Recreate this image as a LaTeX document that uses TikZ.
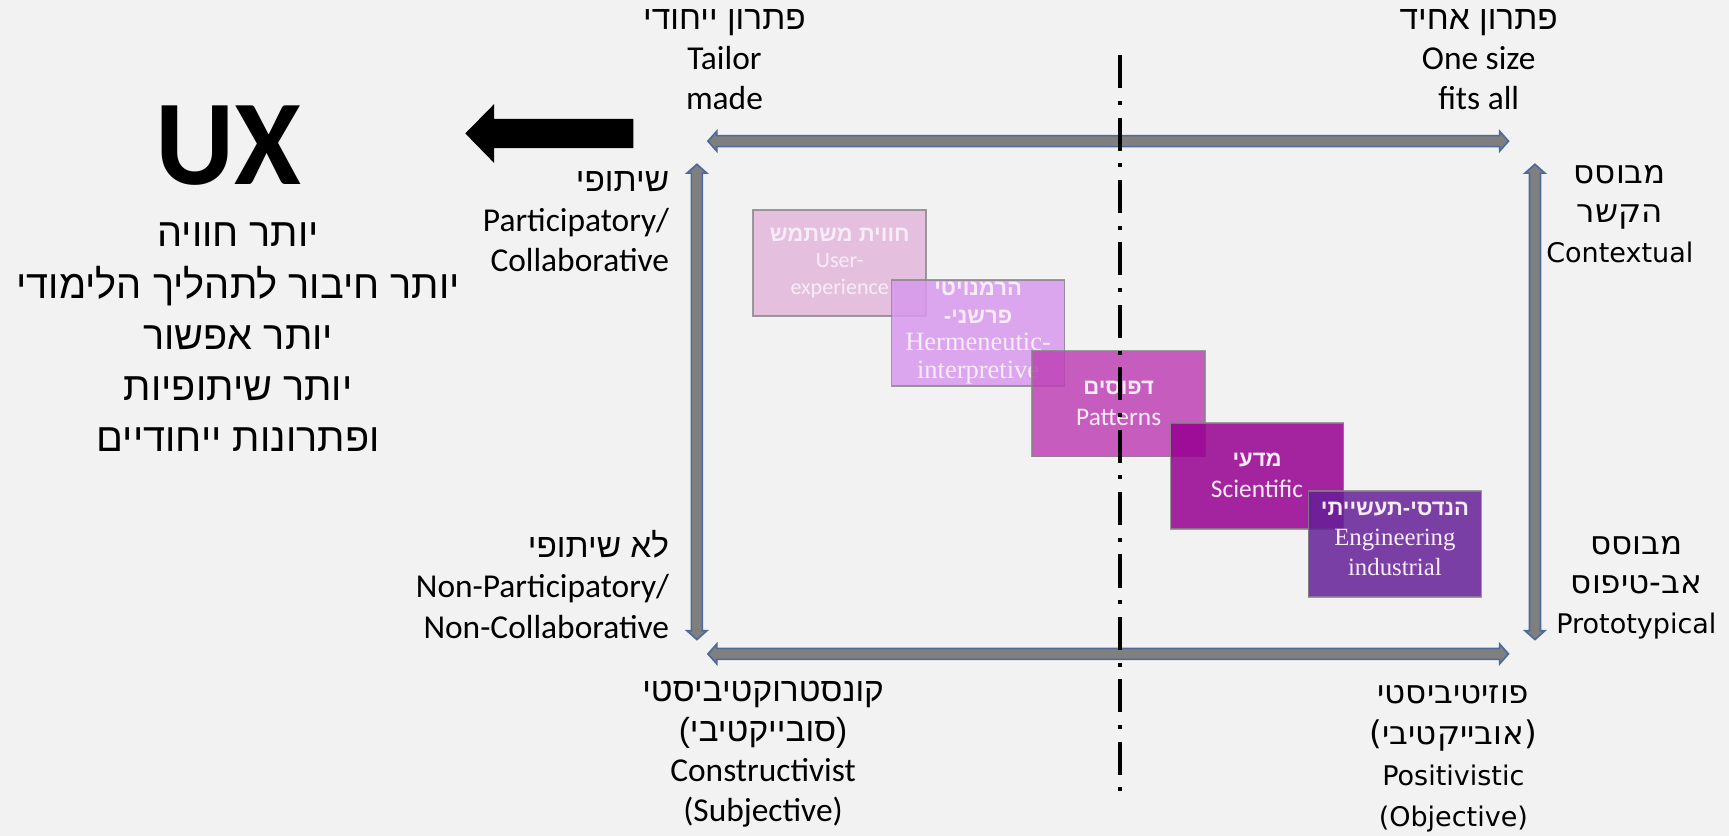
\documentclass[tikz,border=0pt]{standalone}
\usepackage{fontspec}
\setmainfont{Carlito}
\newfontfamily\hebfont[Script=Hebrew]{Liberation Sans}
\newfontfamily\hebwide[Script=Hebrew]{DejaVu Sans}
\newfontfamily\widefont{DejaVu Sans}
\newfontfamily\serfont{Liberation Serif}
\usetikzlibrary{calc}
\TeXXeTstate=1
\newcommand{\heb}[1]{{\hebfont\beginR#1\endR}}
\newcommand{\hebw}[1]{{\hebwide\fontsize{29.5}{36}\selectfont\beginR#1\endR}}

\definecolor{bgcol}{HTML}{F2F2F2}
\definecolor{axisfill}{HTML}{7F7F7F}
\definecolor{axisline}{HTML}{4E6A9C}
\definecolor{boxline}{HTML}{858585}
\definecolor{boxtext}{HTML}{F8ECF8}
\definecolor{uxcol}{RGB}{226,183,219}
\definecolor{hermcol}{RGB}{216,153,237}
\definecolor{patcol}{RGB}{190,66,182}
\definecolor{scicol}{RGB}{151,0,146}
\definecolor{engcol}{RGB}{102,32,152}

\tikzset{
  lbl/.style={align=center, inner sep=0pt, font=\fontsize{30.3}{36.5}\selectfont},
  widelbl/.style={align=center, inner sep=0pt, font=\widefont\fontsize{24.5}{36}\selectfont},
  axis/.style={fill=axisfill, draw=axisline, line width=1.5pt, line join=miter},
  catbox/.style={draw=boxline, line width=1.5pt, draw opacity=0.8, fill opacity=0.85,
    text opacity=1, text=boxtext, minimum width=157pt, minimum height=96pt,
    inner sep=0pt, align=center}
}

\begin{document}
\begin{tikzpicture}[x=1pt,y=-1pt]
	\fill[bgcol] (0,0) rectangle (1568,758);
	\useasboundingbox (0,0) rectangle (1568,758);

	% UX side
	\node[font=\fontsize{110}{110}\selectfont\bfseries] (ux) at (207,132) {UX};
	\node[align=center, inner sep=0pt, font=\fontsize{36}{46.5}\selectfont] (uxlist) at (216,306)
		{\heb{יותר חוויה}\\\heb{יותר חיבור לתהליך הלימודי}\\\heb{יותר אפשור}\\\heb{יותר שיתופיות}\\\heb{ופתרונות ייחודיים}};
	\coordinate (uxtip) at (422,121);
	\fill (uxtip) -- ++(26,-26.5) -- ++(0,13.3) -- ++(126.5,0) -- ++(0,26.6) -- ++(-126.5,0) -- ++(0,13.3) -- cycle;

	% axes
	\coordinate (tl) at (642,128);
	\coordinate (tr) at (1368,128);
	\coordinate (bl) at (642,593);
	\coordinate (br) at (1368,593);
	\coordinate (lt) at (632,149);
	\coordinate (lb) at (632,580);
	\coordinate (rt) at (1392,149);
	\coordinate (rb) at (1392,580);

	\draw[axis] (tl) -- ++(8,-9) -- ++(0,4) -- ($(tr)+(-8,-5)$) -- ++(0,-4) -- (tr) -- ++(-8,9) -- ++(0,-4) -- ($(tl)+(8,5)$) -- ++(0,4) -- cycle;
	\draw[axis] (bl) -- ++(8,-9) -- ++(0,4) -- ($(br)+(-8,-5)$) -- ++(0,-4) -- (br) -- ++(-8,9) -- ++(0,-4) -- ($(bl)+(8,5)$) -- ++(0,4) -- cycle;
	\draw[axis] (lt) -- ++(9,8) -- ++(-4,0) -- ($(lb)+(5,-8)$) -- ++(4,0) -- (lb) -- ++(-9,-8) -- ++(4,0) -- ($(lt)+(-5,8)$) -- ++(-4,0) -- cycle;
	\draw[axis] (rt) -- ++(9,8) -- ++(-4,0) -- ($(rb)+(5,-8)$) -- ++(4,0) -- (rb) -- ++(-9,-8) -- ++(4,0) -- ($(rt)+(-5,8)$) -- ++(-4,0) -- cycle;

	% labels
	\node[lbl] (tailor) at (657,54) {\heb{פתרון ייחודי}\\Tailor\\made};
	\node[lbl] (onesize) at (1341,54) {\heb{פתרון אחיד}\\One size\\fits all};
	\node[lbl, anchor=east, align=right] (partic) at (607,201) {\heb{שיתופי}\\Participatory/\\Collaborative};
	\node[lbl, anchor=east, align=right] (nonpartic) at (607,530) {\heb{לא שיתופי}\\Non-Participatory/\\Non-Collaborative};
	\node[lbl] (constr) at (692,684) {\heb{קונסטרוקטיביסטי}\\\heb{(סובייקטיבי)}\\Constructivist\\(Subjective)};
	\node[widelbl, font=\widefont\fontsize{24.5}{37}\selectfont] (posit) at (1318,688) {\hebw{פוזיטיביסטי}\\\hebw{(אובייקטיבי)}\\Positivistic\\(Objective)};
	\node[widelbl] (context) at (1469,194) {\hebw{מבוסס}\\\hebw{הקשר}\\Contextual};
	\node[widelbl] (proto) at (1484,533) {\hebw{מבוסס}\\\hebw{אב-טיפוס}\\Prototypical};

	% boxes
	\node[catbox, fill=uxcol, font=\fontsize{20}{24}\selectfont] (uxbox) at (761.5,238.5)
		{\heb{\bfseries חווית משתמש}\\User-\\experience};
	\node[catbox, fill=hermcol, font=\fontsize{20}{25}\selectfont] (hermbox) at (887,302)
		{\heb{\bfseries הרמנויטי}\\{\hebfont\bfseries -}\heb{\bfseries פרשני}\\{\serfont\fontsize{24}{29}\selectfont Hermeneutic-}\\{\serfont\fontsize{24}{26}\selectfont interpretive}};
	\node[catbox, fill=patcol, font=\fontsize{23}{28}\selectfont] (patbox) at (1014.5,366)
		{\heb{\fontsize{20}{28}\selectfont\bfseries דפוסים}\\Patterns};
	\node[catbox, fill=scicol, font=\fontsize{23}{28}\selectfont] (scibox) at (1140,431.5)
		{\heb{\fontsize{20}{28}\selectfont\bfseries מדעי}\\Scientific};
	\node[catbox, fill=engcol, font=\fontsize{20}{27}\selectfont, text depth=10pt] (engbox) at (1265,493.5)
		{\heb{\bfseries הנדסי-תעשייתי}\\{\serfont\fontsize{22.5}{27}\selectfont Engineering}\\{\serfont\fontsize{22.5}{27}\selectfont industrial}};

	% divider
	\coordinate (divtop) at (1016,50);
	\coordinate (divbot) at (1016,718);
	\draw[line width=3.8pt, dash pattern=on 30pt off 11.5pt on 3.6pt off 11.5pt] (divtop) -- (divbot);
\end{tikzpicture}
\end{document}
